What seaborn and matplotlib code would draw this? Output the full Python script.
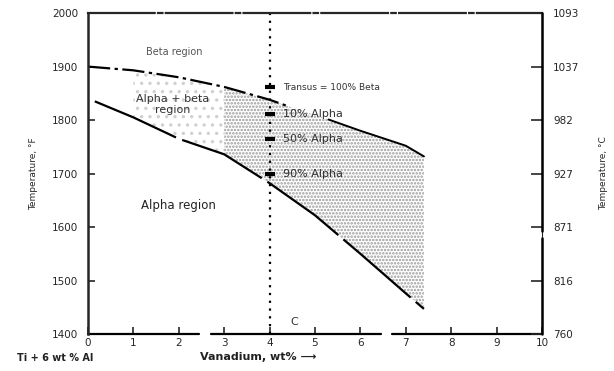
import numpy as np
import seaborn as sns
import matplotlib.pyplot as plt

transus_x = [0, 1, 2, 3, 4, 4.4, 5.3, 6, 7, 7.4]
transus_t = [1900, 1893, 1880, 1862, 1838, 1826, 1801, 1780, 1752, 1732]
solvus_x = [0.15, 1, 2, 3, 4, 5, 6, 7, 7.4]
solvus_t = [1835, 1805, 1765, 1736, 1682, 1622, 1550, 1476, 1447]

marca_t = [1861, 1812, 1765, 1700]
marca_txt = ['Transus = 100% Beta', '10% Alpha', '50% Alpha', '90% Alpha']

ticks_f = [1400, 1500, 1600, 1700, 1800, 1900, 2000]
ticks_c = ['760', '816', '871', '927', '982', '1037', '1093']

sns.set_style('ticks')
plt.rcParams['font.family'] = ['DejaVu Sans']
plt.rcParams['hatch.linewidth'] = 1.2

fig = plt.figure(figsize=(6.14, 3.71), dpi=100)
ax = fig.add_axes([0.1433, 0.0997, 0.7394, 0.865])

tx = np.array(transus_x)
tt = np.array(transus_t)
sx = np.array(solvus_x)
st = np.array(solvus_t)

# zona alfa + beta punteada
m1u, m1l = (tx >= 1) & (tx <= 3), (sx >= 1) & (sx <= 3)
ax.fill(np.concatenate([tx[m1u], sx[m1l][::-1]]), np.concatenate([tt[m1u], st[m1l][::-1]]),
        facecolor='none', edgecolor='#d0d0d0', hatch='..', linewidth=0)
m2u, m2l = tx >= 3, sx >= 3
ax.fill(np.concatenate([tx[m2u], sx[m2l][::-1]]), np.concatenate([tt[m2u], st[m2l][::-1]]),
        facecolor='none', edgecolor='#9a9a9a', hatch='.....', linewidth=0)

# beta transus: trazo-punto y luego continuo
sns.lineplot(x=tx[tx <= 4.4], y=tt[tx <= 4.4], ax=ax, color='black', lw=1.6,
             linestyle=(0, (10, 2, 1.5, 2)), sort=False)
sns.lineplot(x=tx[tx >= 5.3], y=tt[tx >= 5.3], ax=ax, color='black', lw=1.4, sort=False)
# limite alfa
sns.lineplot(x=sx, y=st, ax=ax, color='black', lw=1.6, linestyle=(0, (40, 3)), sort=False)

# composicion 4% V
ax.axvline(4, color='black', lw=1.6, linestyle=(0, (1, 2.5)))
sns.scatterplot(x=[4] * len(marca_t), y=marca_t, ax=ax, marker='_', s=50,
                color='black', linewidth=3, zorder=5)
for t, txt in zip(marca_t, marca_txt):
    fs = 6.5 if txt.startswith('Transus') else 8
    ax.text(4.3, t, txt, fontsize=fs, va='center', color='#333333')

ax.text(1.9, 1927, 'Beta region', fontsize=7, ha='center', va='center', color='#555555')
ax.text(1.87, 1840, 'Alpha + beta', fontsize=8, ha='center', va='center', color='#333333')
ax.text(1.87, 1818, 'region', fontsize=8, ha='center', va='center', color='#333333')
ax.text(2.0, 1640, 'Alpha region', fontsize=8.5, ha='center', va='center', color='#222222')
ax.text(4.55, 1422, 'C', fontsize=8, ha='center', va='center', color='#333333')

ax.set_xlim(0, 10)
ax.set_ylim(1400, 2000)
ax.set_xticks(range(0, 11))
ax.set_yticks(ticks_f)
ax.set_xlabel('')
ax.set_ylabel('Temperature, °F', fontsize=6.5, labelpad=10)
ax.tick_params(axis='x', direction='in', length=5, width=1.2, labelsize=7.5, pad=3)
ax.tick_params(axis='y', direction='in', length=5, width=1.2, labelsize=7.5, pad=7)

# eje inferior partido
ax.spines['bottom'].set_visible(False)
ax.spines['top'].set_linestyle((0, (30, 1.5, 2, 1.5)))
ax.spines['top'].set_linewidth(1.6)
ax.spines['left'].set_linewidth(1.8)
for a, b in [(0, 2.45), (2.7, 6.45), (6.7, 10)]:
    ax.plot([a, b], [1400, 1400], color='black', lw=1.6, clip_on=False)

ax2 = ax.twinx()
ax2.set_ylim(1400, 2000)
ax2.set_yticks(ticks_f)
ax2.set_yticklabels(ticks_c)
ax2.set_ylabel('Temperature, °C', fontsize=6.5, labelpad=14)
ax2.tick_params(axis='y', direction='in', length=8, width=1.2, labelsize=7.5, pad=8)
for s in ['top', 'bottom', 'left', 'right']:
    ax2.spines[s].set_visible(False)
for a, b in [(0, 0.3), (0.32, 1)]:
    ax2.plot([1, 1], [a, b], color='black', lw=1.8, transform=ax2.transAxes, clip_on=False)

fig.text(0.028, 0.028, 'Ti + 6 wt % Al', fontsize=7, fontweight='bold', color='#222222')
fig.text(0.325, 0.03, 'Vanadium, wt% ⟶', fontsize=8, fontweight='bold', color='#222222')

fig.savefig('out.png', dpi=100)
